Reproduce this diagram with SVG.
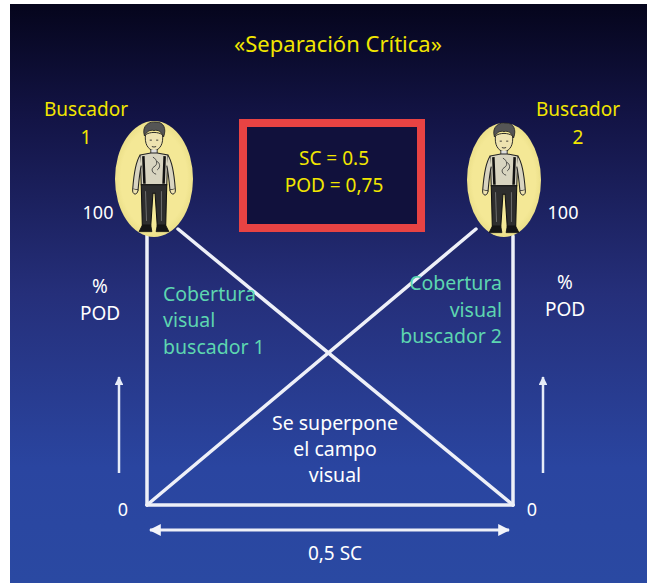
<svg xmlns="http://www.w3.org/2000/svg" width="647" height="583" viewBox="0 0 647 583">
  <defs>
    <linearGradient id="bg" x1="0" y1="0" x2="0" y2="1">
      <stop offset="0" stop-color="#05051c"/>
      <stop offset="0.2" stop-color="#131446"/>
      <stop offset="0.5" stop-color="#252f7a"/>
      <stop offset="0.8" stop-color="#2a45a0"/>
      <stop offset="1" stop-color="#2a49a2"/>
    </linearGradient>
    <radialGradient id="halo" cx="0.5" cy="0.5" r="0.5">
      <stop offset="0.85" stop-color="#f4e896"/>
      <stop offset="1" stop-color="#ece08a"/>
    </radialGradient>
    <marker id="tip" viewBox="0 0 10 10" refX="9" refY="5" markerWidth="4" markerHeight="4" orient="auto-start-reverse">
      <path d="M0,0 L10,5 L0,10 z" fill="#f2f4fa"/>
    </marker>
    <marker id="tipSmall" viewBox="0 0 10 10" refX="9" refY="5" markerWidth="3.5" markerHeight="3.5" orient="auto">
      <path d="M0,0 L10,5 L0,10 z" fill="#e6ecf8"/>
    </marker>
    <!-- sketched searcher figure, origin at ellipse centre -->
    <symbol id="searcher" viewBox="-30 -56 60 110" overflow="visible">
      <!-- hair and head -->
      <path d="M-9,-42 C-12,-52 -4,-56 2,-55 C9,-55 12,-49 9,-41 C7,-46 4,-48 0,-47 C-4,-48 -7,-46 -9,-42 z" fill="#555" stroke="#222" stroke-width="0.8"/>
      <path d="M-8,-43 C-9,-35 -6,-29 0,-28 C6,-29 9,-35 8,-43 C4,-46 -4,-46 -8,-43 z" fill="#eee3b0" stroke="#222" stroke-width="0.9"/>
      <path d="M-4,-38 h2 M2,-38 h2 M-2,-32 q2,1 4,0" stroke="#222" stroke-width="0.8" fill="none"/>
      <!-- neck and shirt -->
      <path d="M-3,-29 L-3,-25 L3,-25 L3,-29" fill="#ddd" stroke="#222" stroke-width="0.8"/>
      <path d="M-13,-24 L-3,-26 L3,-26 L13,-24 L12,4 L-12,4 z" fill="#d8d4c0" stroke="#222" stroke-width="1"/>
      <path d="M-10,-23 L-9,3 M10,-23 L9,3" stroke="#111" stroke-width="2.4" fill="none"/>
      <path d="M-1,-22 C3,-20 4,-15 0,-13 C-3,-11 -2,-7 2,-6 M3,-18 C6,-16 6,-12 3,-10" stroke="#333" stroke-width="0.8" fill="none"/>
      <!-- arms -->
      <path d="M-13,-24 C-17,-18 -19,-6 -20,8 L-15,9 C-14,-2 -13,-10 -12,-14" fill="#d8d4c0" stroke="#222" stroke-width="1"/>
      <path d="M13,-24 C17,-18 19,-6 20,8 L15,9 C14,-2 13,-10 12,-14" fill="#d8d4c0" stroke="#222" stroke-width="1"/>
      <path d="M-20,8 C-21,13 -16,15 -15,9 M20,8 C21,13 16,15 15,9" fill="#eee3b0" stroke="#222" stroke-width="0.9"/>
      <!-- trousers and boots -->
      <path d="M-12,4 L12,4 L11,42 L3,42 L1,12 L-1,12 L-3,42 L-11,42 z" fill="#2e2e2e" stroke="#111" stroke-width="1"/>
      <path d="M-8,10 L-7,38 M7,10 L7,38" stroke="#777" stroke-width="0.8" fill="none"/>
      <path d="M-11,42 L-3,42 L-2,48 L-14,48 z M3,42 L11,42 L14,48 L2,48 z" fill="#151515" stroke="#111" stroke-width="0.8"/>
    </symbol>
    <style>
      .lbl { font-family: "Noto Sans", "Open Sans", "Liberation Sans", sans-serif; }
      .yel { fill: #f2e600; }
      .wht { fill: #ffffff; }
      .teal { fill: #5dd6b0; }
      .edge { stroke: #eef0f8; stroke-width: 3.5; fill: none; stroke-linecap: round; }
    </style>
  </defs>

  <rect x="10" y="4" width="637" height="579" fill="url(#bg)"/>

  <text class="lbl yel" x="338" y="52" font-size="22" text-anchor="middle">«Separación Crítica»</text>

  <!-- connectors -->
  <g id="connectors">
    <line class="edge" x1="147" y1="234" x2="147" y2="505"/>
    <line class="edge" x1="513" y1="236" x2="513" y2="505"/>
    <line class="edge" x1="147" y1="505" x2="513" y2="505"/>
    <line class="edge" x1="178" y1="229" x2="513" y2="505"/>
    <line class="edge" x1="476" y1="229" x2="147" y2="505"/>
    <line x1="150" y1="530" x2="509" y2="530" stroke="#eef0f8" stroke-width="3" marker-start="url(#tip)" marker-end="url(#tip)"/>
    <line x1="119" y1="473" x2="119" y2="377" stroke="#e6ecf8" stroke-width="2.5" marker-end="url(#tipSmall)"/>
    <line x1="543" y1="473" x2="543" y2="377" stroke="#e6ecf8" stroke-width="2.5" marker-end="url(#tipSmall)"/>
  </g>

  <g id="searcher1">
    <ellipse cx="154" cy="179" rx="39" ry="58" fill="url(#halo)"/>
    <use href="#searcher" x="122" y="121" width="64" height="117"/>
    <text class="lbl yel" x="86" y="116" font-size="19" text-anchor="middle">Buscador</text>
    <text class="lbl yel" x="86" y="144" font-size="19" text-anchor="middle">1</text>
    <text class="lbl wht" x="98" y="219" font-size="18" text-anchor="middle">100</text>
  </g>

  <g id="searcher2">
    <ellipse cx="504" cy="180" rx="37" ry="57" fill="url(#halo)"/>
    <use href="#searcher" x="472" y="122" width="64" height="117"/>
    <text class="lbl yel" x="578" y="116" font-size="19" text-anchor="middle">Buscador</text>
    <text class="lbl yel" x="578" y="144" font-size="19" text-anchor="middle">2</text>
    <text class="lbl wht" x="563" y="219" font-size="18" text-anchor="middle">100</text>
  </g>

  <g id="params">
    <rect x="243" y="123" width="178" height="105" fill="#11113c" stroke="#e84343" stroke-width="8"/>
    <text class="lbl yel" x="334" y="165" font-size="19" text-anchor="middle">SC = 0.5</text>
    <text class="lbl yel" x="334" y="192" font-size="19" text-anchor="middle">POD = 0,75</text>
  </g>

  <g id="axis-left">
    <text class="lbl wht" x="100" y="293" font-size="19" text-anchor="middle">%</text>
    <text class="lbl wht" x="100" y="320" font-size="19" text-anchor="middle">POD</text>
    <text class="lbl wht" x="123" y="516" font-size="18" text-anchor="middle">0</text>
  </g>

  <g id="axis-right">
    <text class="lbl wht" x="565" y="289" font-size="19" text-anchor="middle">%</text>
    <text class="lbl wht" x="565" y="316" font-size="19" text-anchor="middle">POD</text>
    <text class="lbl wht" x="532" y="516" font-size="18" text-anchor="middle">0</text>
  </g>

  <g id="coverage1">
    <text class="lbl teal" font-size="19.5"><tspan x="163" y="301">Cobertura</tspan><tspan x="163" y="327">visual</tspan><tspan x="163" y="354">buscador 1</tspan></text>
  </g>

  <g id="coverage2">
    <text class="lbl teal" font-size="19.5" text-anchor="end"><tspan x="502" y="290">Cobertura</tspan><tspan x="502" y="317">visual</tspan><tspan x="502" y="343">buscador 2</tspan></text>
  </g>

  <g id="overlap">
    <text class="lbl wht" font-size="19.5" text-anchor="middle"><tspan x="335" y="430">Se superpone</tspan><tspan x="335" y="456">el campo</tspan><tspan x="335" y="482">visual</tspan></text>
  </g>

  <text class="lbl wht" x="335" y="560" font-size="19" text-anchor="middle">0,5 SC</text>
</svg>
